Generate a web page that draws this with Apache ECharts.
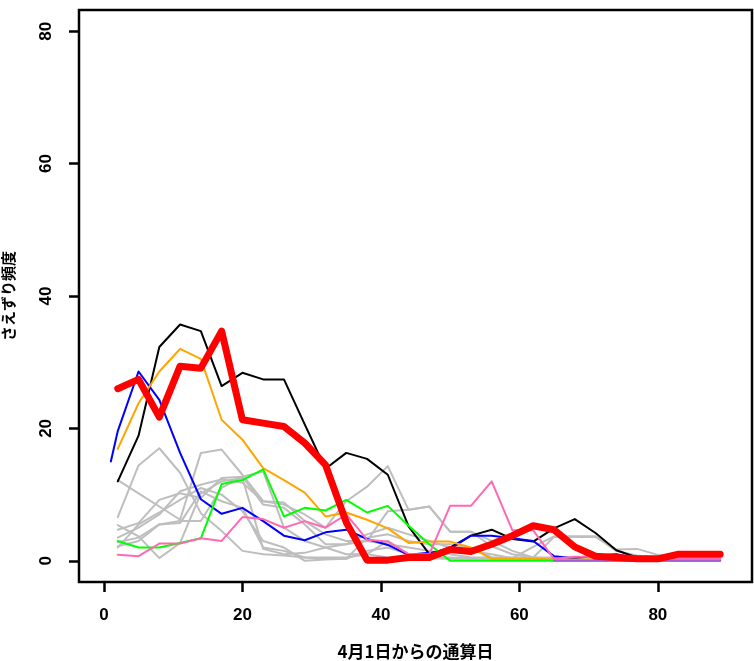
<!DOCTYPE html>
<html>
<head>
<meta charset="utf-8">
<script src="https://cdn.jsdelivr.net/npm/echarts@6/dist/echarts.min.js"></script>
<style>
html,body{margin:0;padding:0;background:#fff;}
#chart{width:754px;height:661px;}
</style>
</head>
<body>
<div id="chart"></div>
<script>
// ---- data ----
const days = [2,5,8,11,14,17,20,23,26,29,32,35,38,41,44,47,50,53,56,59,62,65,68,71,74,77,80,83,86,89];
const blueDays = [1,2,5,8,11,14,17,20,23,26,29,32,35,38,41,44,47,50,53,56,59,62,65,68,71,74,77,80,83,86,89];
const purpleDays = [65,68,71,74,77,80,83,86,89];

const xTicks = [0,20,40,60,80];
const yTicks = [0,20,40,60,80];

const redValues    = [26.0,27.4,21.7,29.4,29.1,34.7,21.3,20.8,20.3,17.8,14.5,5.8,0.1,0.1,0.5,0.5,1.7,1.4,2.5,3.8,5.3,4.7,2.1,0.7,0.5,0.3,0.3,1.0,1.0,1.0];
const blackValues  = [12.0,18.9,32.3,35.7,34.7,26.4,28.4,27.4,27.4,20.6,13.9,16.3,15.4,13.0,5.2,1.0,2.0,3.8,4.7,3.3,2.9,4.9,6.3,4.2,1.6,0.5,0.2,0.1,0.1,0.1];
const blueValues   = [15.0,19.6,28.6,24.3,16.3,9.3,7.1,8.0,6.0,3.8,3.1,4.3,4.7,3.3,2.4,0.9,1.2,1.8,3.8,3.8,3.4,3.0,0.7,0.4,0.8,1.0,0.3,0.2,0.1,0.1,0.1];
const orangeValues = [16.9,23.8,28.6,32.0,30.5,21.3,18.3,14.0,12.2,10.3,6.7,7.3,6.2,4.9,2.7,2.9,2.9,2.0,0.3,0.3,0.3,0.2,0.2,0.2,0.2,0.2,0.2,0.2,0.2,0.2];
const greenValues  = [3.0,2.0,2.0,2.7,3.4,11.6,12.2,13.8,6.7,8.0,7.6,9.2,7.3,8.3,5.3,2.5,0.0,0.0,0.0,0.0,0.0,0.0,0.0,0.0,0.0,0.0,0.0,0.0,0.0,0.0];
const pinkValues   = [0.9,0.7,2.6,2.6,3.4,3.0,6.6,6.3,5.0,6.0,5.0,7.0,3.2,2.9,1.0,1.0,8.3,8.3,12.0,4.6,4.6,0.3,0.6,0.6,0.4,0.3,0.3,0.3,0.3,0.3];
const purpleValues = [0.0,0.0,0.0,0.0,0.0,0.0,0.0,0.0,0.0];

const gray1 = [6.6,14.4,17.0,13.3,7.2,4.5,1.5,1.0,0.8,0.5,0.5,0.5,1.0,3.0,1.0,0.5,0.5,0.3,0.3,0.2,0.2,0.2,0.2,0.2,0.2,0.2,0.2,0.2,0.2,0.2];
const gray2 = [12.2,10.2,8.2,6.2,16.3,16.8,13.0,9.0,8.8,6.0,4.0,3.0,3.0,2.5,2.0,1.5,1.0,0.5,0.5,0.5,0.5,0.3,0.3,0.2,0.2,0.2,0.2,0.2,0.2,0.2];
const gray3 = [4.7,5.7,9.2,10.2,9.5,12.5,12.7,8.5,8.0,5.5,2.5,2.5,3.0,7.5,7.7,8.2,4.4,4.4,2.2,1.0,0.5,0.5,0.3,0.2,0.2,0.2,0.2,0.2,0.2,0.2];
const gray4 = [3.5,5.0,7.0,10.5,11.5,12.3,11.8,9.0,8.5,7.0,5.0,9.0,11.2,14.3,7.7,8.2,4.4,4.4,3.0,1.5,0.5,3.6,3.6,3.6,1.7,1.8,0.9,0.3,0.3,0.3];
const gray5 = [5.4,3.7,0.4,2.7,10.2,12.0,12.5,1.8,1.0,1.2,2.0,2.5,4.0,5.0,4.0,3.0,2.0,1.5,1.0,0.4,2.1,3.7,3.7,3.7,1.5,0.8,0.5,0.3,0.3,0.3];
const gray6 = [2.8,3.5,5.5,6.0,6.0,11.0,12.7,13.5,5.0,3.0,2.0,1.0,1.0,0.5,0.5,0.4,0.3,0.3,0.3,0.3,0.3,0.3,0.3,0.2,0.2,0.2,0.2,0.2,0.2,0.2];
const gray7 = [2.2,3.0,5.5,5.7,10.5,9.0,8.0,2.0,1.5,0.5,0.3,0.3,1.5,2.0,1.0,0.5,0.3,0.3,0.3,0.3,0.3,0.3,0.3,0.3,1.0,0.5,0.3,0.2,0.2,0.2];
const gray8 = [2.0,5.5,7.3,9.2,11.0,10.0,7.5,3.0,2.0,0.0,0.2,0.3,3.5,4.0,3.0,2.5,2.5,2.0,0.5,0.3,0.3,0.2,0.2,0.2,0.2,0.2,0.2,0.2,0.2,0.2];
const grayList = [gray1,gray2,gray3,gray4,gray5,gray6,gray7,gray8];

// ---- build ----
function pairs(xs, ys){ return xs.map((x,i)=>[x, ys[i]]); }
function lineSeries(xs, ys, color, width){
  return {
    type:'line', data:pairs(xs, ys), symbol:'none', silent:true,
    lineStyle:{color:color, width:width, cap:'round', join:'round'},
    z:2
  };
}

const series = [];
grayList.forEach(g => series.push(lineSeries(days, g, '#BEBEBE', 2)));
series.push(lineSeries(days, blackValues, '#000000', 2));
series.push(lineSeries(blueDays, blueValues, '#0000FF', 2));
series.push(lineSeries(days, orangeValues, '#FFA500', 2));
series.push(lineSeries(days, greenValues, '#00FF00', 2));
series.push(lineSeries(days, pinkValues, '#FF69B4', 2));
series.push(lineSeries(purpleDays, purpleValues, '#9F5FD0', 2));
series.push(lineSeries(days, redValues, '#FF0000', 7));

const labelFont = {fontFamily:'"Liberation Sans Narrow", "Liberation Sans", sans-serif', fontWeight:'bold', fontSize:17, color:'#000'};
const xNameFont = {fontFamily:'"Noto Sans CJK JP"', fontWeight:'bold', fontSize:17, color:'#000'};
const yNameFont = {fontFamily:'"Noto Sans CJK JP"', fontWeight:'bold', fontSize:15, color:'#000'};

const chart = echarts.init(document.getElementById('chart'), null, {renderer:'canvas'});
chart.setOption({
  animation:false,
  backgroundColor:'#fff',
  grid:{left:79, right:2, top:10, bottom:79, show:true, borderColor:'#000', borderWidth:2.5, backgroundColor:'transparent', containLabel:false, outerBoundsMode:'none'},
  xAxis:{
    type:'value', min:-3.6, max:93.6,
    name:'4月1日からの通算日', nameLocation:'middle', nameGap:61, nameTextStyle:xNameFont,
    axisLine:{show:false, onZero:false},
    axisTick:{show:true, inside:false, length:10, customValues:xTicks, lineStyle:{color:'#000', width:2.5}},
    axisLabel:{show:true, customValues:xTicks, margin:25, ...labelFont},
    splitLine:{show:false}
  },
  yAxis:{
    type:'value', min:-3.2, max:83.2,
    name:'さえずり頻度', nameLocation:'middle', nameGap:63, nameTextStyle:yNameFont,
    axisLine:{show:false, onZero:false},
    axisTick:{show:true, inside:false, length:10, customValues:yTicks, lineStyle:{color:'#000', width:2.5}},
    axisLabel:{show:true, customValues:yTicks, margin:24, rotate:90, ...labelFont},
    splitLine:{show:false}
  },
  series:series
});
</script>
</body>
</html>
